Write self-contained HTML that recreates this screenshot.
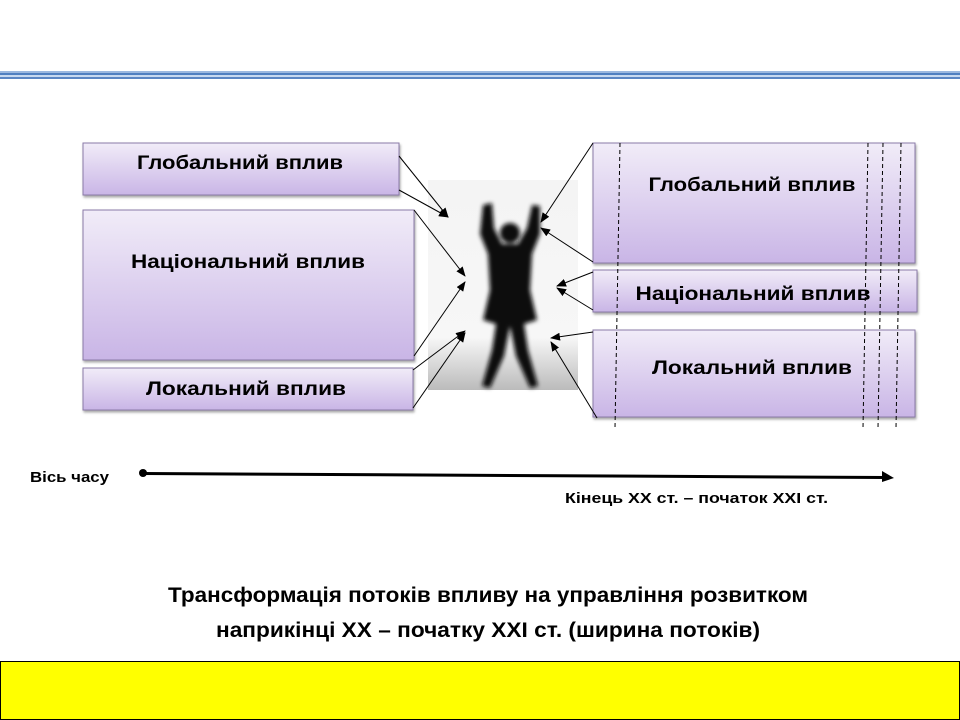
<!DOCTYPE html>
<html><head><meta charset="utf-8"><style>
html,body{margin:0;padding:0;background:#fff;width:960px;height:720px;overflow:hidden}
svg text{font-family:"Liberation Sans","DejaVu Sans",sans-serif;font-weight:bold;fill:#000}
</style></head><body>
<svg width="960" height="720" viewBox="0 0 960 720" xmlns="http://www.w3.org/2000/svg">
<defs>
<linearGradient id="bx" x1="0" y1="0" x2="0" y2="1">
<stop offset="0" stop-color="#f1ecf8"/><stop offset="1" stop-color="#c9b5e6"/></linearGradient>
<linearGradient id="bg" x1="0" y1="0" x2="0" y2="1">
<stop offset="0" stop-color="#f4f4f4"/><stop offset="0.75" stop-color="#f7f7f7"/><stop offset="1" stop-color="#bbbbbb"/></linearGradient>
<filter id="bl" x="-20%" y="-20%" width="140%" height="140%"><feGaussianBlur stdDeviation="2.2"/></filter>
<filter id="sh" x="-5%" y="-5%" width="115%" height="130%"><feDropShadow dx="1" dy="2" stdDeviation="1.2" flood-color="#000" flood-opacity="0.35"/></filter>
<marker id="ar" markerWidth="10" markerHeight="8" refX="9" refY="4" orient="auto" markerUnits="userSpaceOnUse"><path d="M0,0 L10,4 L0,8 z" fill="#000"/></marker>
</defs>
<rect x="0" y="71" width="960" height="2" fill="#9bb8e0"/>
<rect x="0" y="73" width="960" height="2" fill="#4f7fc0"/>
<rect x="0" y="75" width="960" height="2" fill="#c7d9f0"/>
<rect x="0" y="77" width="960" height="2" fill="#5b86c4"/>

<g filter="url(#sh)" stroke="#8a7aa8" stroke-width="1">
<rect x="83" y="143" width="316" height="52" fill="url(#bx)"/>
<rect x="83" y="210" width="331" height="150" fill="url(#bx)"/>
<rect x="83" y="368" width="330" height="42" fill="url(#bx)"/>
<rect x="593" y="143" width="322" height="120" fill="url(#bx)"/>
<rect x="593" y="270" width="324" height="42" fill="url(#bx)"/>
<rect x="593" y="330" width="322" height="87" fill="url(#bx)"/>
</g>
<text x="240" y="169" font-size="19" text-anchor="middle" textLength="206" lengthAdjust="spacingAndGlyphs">Глобальний вплив</text>
<text x="248" y="268" font-size="19" text-anchor="middle" textLength="234" lengthAdjust="spacingAndGlyphs">Національний вплив</text>
<text x="246" y="395" font-size="19" text-anchor="middle" textLength="200" lengthAdjust="spacingAndGlyphs">Локальний вплив</text>
<text x="752" y="191" font-size="19" text-anchor="middle" textLength="207" lengthAdjust="spacingAndGlyphs">Глобальний вплив</text>
<text x="753" y="300" font-size="19" text-anchor="middle" textLength="235" lengthAdjust="spacingAndGlyphs">Національний вплив</text>
<text x="752" y="374" font-size="19" text-anchor="middle" textLength="200" lengthAdjust="spacingAndGlyphs">Локальний вплив</text>

<g stroke="#000" stroke-width="1" stroke-dasharray="4,3">
<line x1="620" y1="143" x2="615" y2="428"/>
<line x1="868" y1="143" x2="863" y2="428"/>
<line x1="883" y1="143" x2="878" y2="428"/>
<line x1="901" y1="143" x2="896" y2="428"/>
</g>

<rect x="428" y="180" width="150" height="210" fill="url(#bg)"/>
<g filter="url(#bl)" fill="#0a0a0a">
<circle cx="510" cy="233" r="10"/>
<path d="M483,205 L492,203 L494,228 L502,244 L518,244 L527,228 L532,205 L540,206 L540,234 L532,254 L530,290 L537,320 L524,324 L528,350 L538,386 L530,388 L516,356 L510,326 L504,356 L490,388 L482,386 L492,350 L496,324 L483,320 L490,290 L488,254 L480,234 Z"/>
</g>

<g stroke="#000" stroke-width="1" fill="none" marker-end="url(#ar)">
<line x1="399" y1="156" x2="448" y2="217"/>
<line x1="399" y1="190" x2="448" y2="217"/>
<line x1="414" y1="210" x2="465" y2="276"/>
<line x1="414" y1="356" x2="465" y2="282"/>
<line x1="413" y1="370" x2="465" y2="331"/>
<line x1="413" y1="408" x2="465" y2="333"/>
<line x1="593" y1="143" x2="541" y2="222"/>
<line x1="593" y1="262" x2="541" y2="228"/>
<line x1="593" y1="272" x2="557" y2="286"/>
<line x1="593" y1="310" x2="557" y2="288"/>
<line x1="593" y1="332" x2="551" y2="338"/>
<line x1="597" y1="418" x2="551" y2="342"/>
</g>

<circle cx="143" cy="473" r="4" fill="#000"/>
<path d="M143,472 L885,476 L885,479 L143,475 Z" fill="#000"/>
<path d="M882,471 L894,478 L882,482 Z" fill="#000"/>
<text x="30" y="482" font-size="15" textLength="79" lengthAdjust="spacingAndGlyphs">Вісь часу</text>
<text x="565" y="503" font-size="15" textLength="263" lengthAdjust="spacingAndGlyphs">Кінець XX ст. – початок XXI ст.</text>

<text x="488" y="602" font-size="21" text-anchor="middle" textLength="640" lengthAdjust="spacingAndGlyphs">Трансформація потоків впливу на управління розвитком</text>
<text x="488" y="637" font-size="21" text-anchor="middle" textLength="544" lengthAdjust="spacingAndGlyphs">наприкінці XX – початку XXI ст. (ширина потоків)</text>

<rect x="0.5" y="661.5" width="959" height="58" fill="#ffff00" stroke="#000" stroke-width="1"/>
</svg>
</body></html>
